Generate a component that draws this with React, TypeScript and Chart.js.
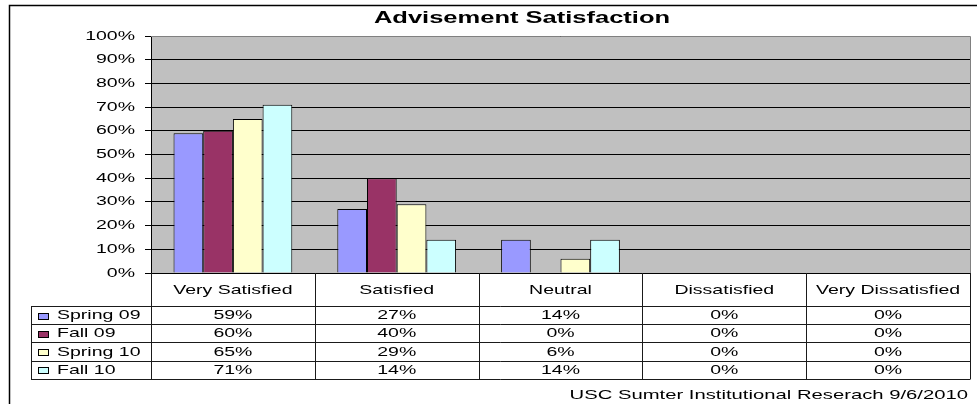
import React, { useEffect, useRef } from 'react';
import { Chart, registerables } from 'chart.js';

Chart.register(...registerables);

const chartTitle = 'Advisement Satisfaction';
const footerText = 'USC Sumter Institutional Reserach 9/6/2010';
const categories = ['Very Satisfied', 'Satisfied', 'Neutral', 'Dissatisfied', 'Very Dissatisfied'];
const seriesNames = ['Spring 09', 'Fall 09', 'Spring 10', 'Fall 10'];
const spring09 = [59, 27, 14, 0, 0];
const fall09 = [60, 40, 0, 0, 0];
const spring10 = [65, 29, 6, 0, 0];
const fall10 = [71, 14, 14, 0, 0];
const seriesColors = ['#9999FF', '#993366', '#FFFFCC', '#CCFFFF'];
const yMin = 0;
const yMax = 100;
const yStep = 10;

const FONT = '"Liberation Sans", Arial, sans-serif';
const SX = 1.5;

function sText(ctx: CanvasRenderingContext2D, text: string, x: number, y: number, align: 'left' | 'center' | 'right', sx = SX) {
  const w = ctx.measureText(text).width * sx;
  const left = align === 'center' ? x - w / 2 : align === 'right' ? x - w : x;
  ctx.save();
  ctx.translate(left, y);
  ctx.scale(sx, 1);
  ctx.textAlign = 'left';
  ctx.textBaseline = 'middle';
  ctx.fillText(text, 0, 0);
  ctx.restore();
}

const decorPlugin = {
  id: 'decor',
  beforeDraw(chart: any) {
    const { ctx, chartArea } = chart;
    ctx.save();
    ctx.fillStyle = '#FFFFFF';
    ctx.fillRect(0, 0, chart.width, chart.height);
    ctx.fillStyle = '#C0C0C0';
    ctx.fillRect(chartArea.left, chartArea.top, chartArea.right - chartArea.left, chartArea.bottom - chartArea.top);
    ctx.restore();
  },
  afterDraw(chart: any) {
    const { ctx, chartArea } = chart;
    const xs = chart.scales.x;
    const ys = chart.scales.y;
    const data = chart.data.datasets;
    const n = categories.length;
    const colW = (chartArea.right - chartArea.left) / n;
    ctx.save();

    // plot area border (top/right grey)
    ctx.strokeStyle = '#808080';
    ctx.lineWidth = 1;
    ctx.beginPath();
    ctx.moveTo(chartArea.left, Math.round(chartArea.top) + 0.5);
    ctx.lineTo(Math.round(chartArea.right) + 0.5, Math.round(chartArea.top) + 0.5);
    ctx.lineTo(Math.round(chartArea.right) + 0.5, chartArea.bottom);
    ctx.stroke();

    // y tick labels
    ctx.fillStyle = '#000';
    ctx.font = `13px ${FONT}`;
    for (const t of ys.ticks) {
      const py = ys.getPixelForValue(t.value);
      sText(ctx, `${t.value}%`, chartArea.left - 16, py, 'right');
    }

    // title
    ctx.font = `bold 17px ${FONT}`;
    sText(ctx, chartTitle, 522, 18.5, 'center');

    // data table
    const top = Math.round(chartArea.bottom);
    const headerH = 33;
    const rowH = 18.2;
    const legendLeft = 31;
    const tableBottom = top + headerH + rowH * data.length;
    ctx.strokeStyle = '#1a1a1a';
    ctx.lineWidth = 1;
    ctx.beginPath();
    for (let i = 0; i <= n; i++) {
      const x = Math.round(chartArea.left + i * colW) + 0.5;
      ctx.moveTo(x, top);
      ctx.lineTo(x, Math.round(tableBottom));
    }
    for (let r = 0; r <= data.length; r++) {
      const y = Math.round(top + headerH + r * rowH) + 0.5;
      ctx.moveTo(legendLeft, y);
      ctx.lineTo(Math.round(chartArea.right) + 0.5, y);
    }
    ctx.moveTo(legendLeft + 0.5, top + headerH);
    ctx.lineTo(legendLeft + 0.5, Math.round(tableBottom) + 0.5);
    ctx.stroke();

    ctx.font = `13px ${FONT}`;
    ctx.fillStyle = '#000';
    categories.forEach((c, i) => {
      const cx = xs.getPixelForValue(i);
      sText(ctx, c, cx, top + headerH / 2 + 0.5, 'center');
    });
    data.forEach((ds: any, r: number) => {
      const cy = top + headerH + r * rowH + rowH / 2 + 0.5;
      // legend key
      ctx.fillStyle = ds.backgroundColor;
      ctx.fillRect(38, Math.round(cy) - 3, 11, 7);
      ctx.strokeStyle = '#000';
      ctx.strokeRect(38.5, Math.round(cy) - 2.5, 10, 6);
      ctx.fillStyle = '#000';
      sText(ctx, ds.label, 57, cy, 'left');
      ds.data.forEach((v: number, i: number) => {
        sText(ctx, `${v}%`, xs.getPixelForValue(i), cy, 'center');
      });
    });

    // footer
    ctx.font = `13.5px ${FONT}`;
    sText(ctx, footerText, 968, 395, 'right');

    // outer chart border
    ctx.strokeStyle = '#000';
    ctx.lineWidth = 1.5;
    ctx.beginPath();
    ctx.moveTo(9.5, chart.height);
    ctx.lineTo(9.5, 5.5);
    ctx.lineTo(chart.width, 5.5);
    ctx.stroke();
    ctx.restore();
  },
};

export default function App() {
  const ref = useRef<HTMLCanvasElement | null>(null);
  useEffect(() => {
    document.body.style.margin = '0';
    const seriesValues = [spring09, fall09, spring10, fall10];
    const chart = new Chart(ref.current as HTMLCanvasElement, {
      type: 'bar',
      data: {
        labels: categories,
        datasets: seriesNames.map((name, i) => ({
          label: name,
          data: seriesValues[i],
          backgroundColor: seriesColors[i],
          borderColor: '#000000',
          borderWidth: (c: any) => (c.raw === 0 ? 0 : 1),
          categoryPercentage: 0.725,
          barPercentage: 1.0,
        })),
      },
      options: {
        responsive: false,
        animation: false,
        layout: { padding: { left: 0, right: 7, top: 36, bottom: 131 } },
        plugins: {
          legend: { display: false },
          title: { display: false },
          tooltip: { enabled: false },
        },
        scales: {
          x: { display: false },
          y: {
            min: yMin,
            max: yMax,
            ticks: { stepSize: yStep, display: false },
            grid: { color: '#000000', lineWidth: 1, drawTicks: true, tickLength: 6 },
            border: { display: true, color: '#000000', width: 1 },
            afterFit: (s: any) => {
              s.width = 151;
            },
          },
        },
      },
      plugins: [decorPlugin],
    });
    return () => chart.destroy();
  }, []);
  return (
    <div style={{ width: 977, height: 404 }}>
      <canvas ref={ref} width={977} height={404} />
    </div>
  );
}
